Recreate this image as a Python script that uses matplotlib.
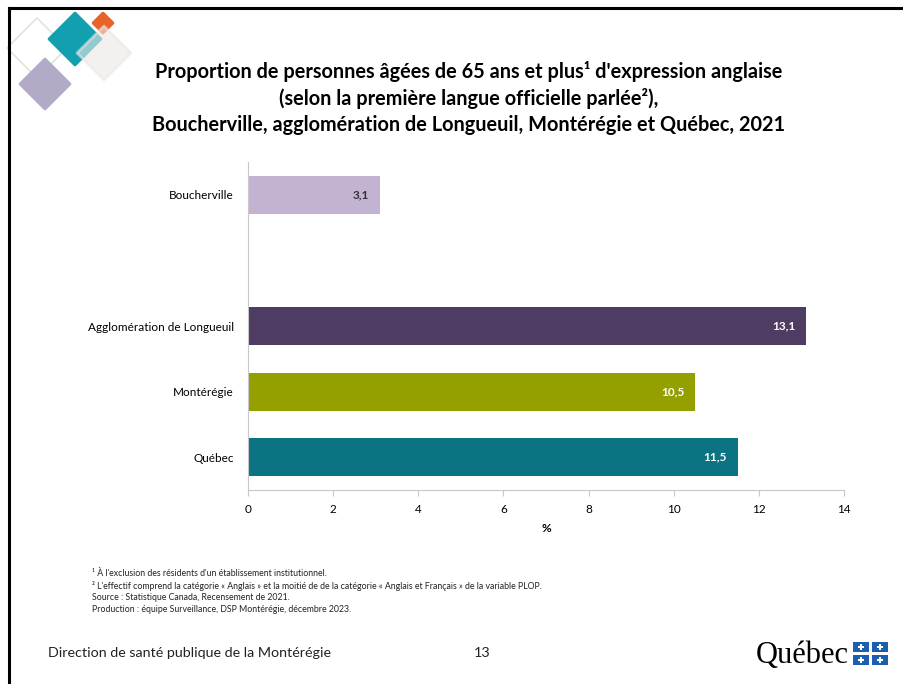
import numpy as np
import matplotlib.pyplot as plt
from matplotlib.patches import Rectangle, Polygon
from matplotlib.lines import Line2D

plt.rcParams['font.family'] = ['Lato', 'DejaVu Sans']

W, H = 904, 684

# data
categories = ["Boucherville", None, "Agglomération de Longueuil", "Montérégie", "Québec"]
values = [3.1, None, 13.1, 10.5, 11.5]
bar_colors = ["#c3b3d3", None, "#4e3c62", "#94a000", "#0b7381"]
label_colors = ["#333333", None, "white", "white", "white"]
xticks = [0, 2, 4, 6, 8, 10, 12, 14]

title_lines = ["Proportion de personnes âgées de 65 ans et plus¹ d'expression anglaise",
               "(selon la première langue officielle parlée²),",
               "Boucherville, agglomération de Longueuil, Montérégie et Québec, 2021"]
notes = ["¹ À l'exclusion des résidents d'un établissement institutionnel.",
         "² L'effectif comprend la catégorie « Anglais » et la moitié de de la catégorie « Anglais et Français » de la variable PLOP.",
         "Source : Statistique Canada, Recensement de 2021.",
         "Production : équipe Surveillance, DSP Montérégie, décembre 2023."]


def fx(x):
    return x / W


def fy(y):
    return 1 - y / H


fig = plt.figure(figsize=(W / 100, H / 100), dpi=100)

# slide border (top and left)
fig.add_artist(Line2D([fx(9), fx(9)], [0, fy(8)], color="black", lw=2.2))
fig.add_artist(Line2D([fx(9), 1], [fy(8), fy(8)], color="black", lw=2.2))


# decorative diamonds
def diamond(cx, cy, r, **kw):
    pts = [(fx(cx), fy(cy - r)), (fx(cx + r), fy(cy)), (fx(cx), fy(cy + r)), (fx(cx - r), fy(cy))]
    fig.add_artist(Polygon(pts, closed=True, transform=fig.transFigure, joinstyle="round", **kw))


diamond(37, 48, 30, facecolor="none", edgecolor="#dfe5da", lw=1.2)
diamond(45, 84, 25, facecolor="#b3aac8", edgecolor="#b3aac8", lw=2)
diamond(75, 39, 26, facecolor="#12a0b0", edgecolor="#12a0b0", lw=2)
diamond(103, 23, 10, facecolor="#e8622a", edgecolor="#e8622a", lw=2)
diamond(104, 53, 27, facecolor="#ebe7e4", edgecolor="#ebe7e4", lw=2, alpha=0.6)

for i, line in enumerate(title_lines):
    fig.text(fx(469), fy(72 + i * 26.5), line, ha="center", va="center", fontsize=14.3,
             fontweight="bold", color="black")

ax = fig.add_axes([fx(248), fy(490), fx(844 - 248), (490 - 162) / H])
pos = np.arange(len(categories))
for p, cat, v, c, lc in zip(pos, categories, values, bar_colors, label_colors):
    if cat is None:
        continue
    ax.barh(p, v, height=0.58, color=c)
    ax.text(v - 0.25, p, f"{v:.1f}".replace(".", ","), ha="right", va="center",
            fontsize=8.5, fontweight="bold", color=lc)

ax.set_ylim(len(categories) - 0.5, -0.5)
ax.set_xlim(0, 14)
ax.set_yticks([p for p, c in zip(pos, categories) if c is not None])
ax.set_yticklabels([c for c in categories if c is not None], fontsize=8.5)
ax.set_xticks(xticks)
ax.set_xticklabels([str(t) for t in xticks], fontsize=8.5)
ax.set_xlabel("%", fontsize=8.5, fontweight="bold", labelpad=6)
for s in ["top", "right"]:
    ax.spines[s].set_visible(False)
for s in ["left", "bottom"]:
    ax.spines[s].set_color("#c8c8c8")
ax.tick_params(axis="y", length=0, pad=10)
ax.tick_params(axis="x", length=4, color="#c8c8c8", direction="out", pad=6)

for i, n in enumerate(notes):
    fig.text(fx(92), fy(574 + i * 11.7), n, ha="left", va="center", fontsize=6.3, color="#222222")

fig.text(fx(48), fy(653), "Direction de santé publique de la Montérégie", ha="left", va="center",
         fontsize=10.3, color="#222222")
fig.text(fx(482), fy(653), "13", ha="center", va="center", fontsize=10.3, color="#222222")

# Québec logo
fig.text(fx(756), fy(655), "Québec", ha="left", va="center", fontsize=22,
         family="Liberation Serif", color="black")
for col in range(2):
    for row in range(2):
        x0, y0 = 853 + col * 19, 642 + row * 13
        fig.add_artist(Rectangle((fx(x0), fy(y0 + 10)), fx(16), 10 / H,
                                 transform=fig.transFigure, facecolor="#1b5fae", edgecolor="none"))
        fig.add_artist(Line2D([fx(x0 + 8)], [fy(y0 + 5)], marker="P", markersize=5,
                              color="white", markeredgewidth=0))

fig.savefig("out.png", dpi=100)
